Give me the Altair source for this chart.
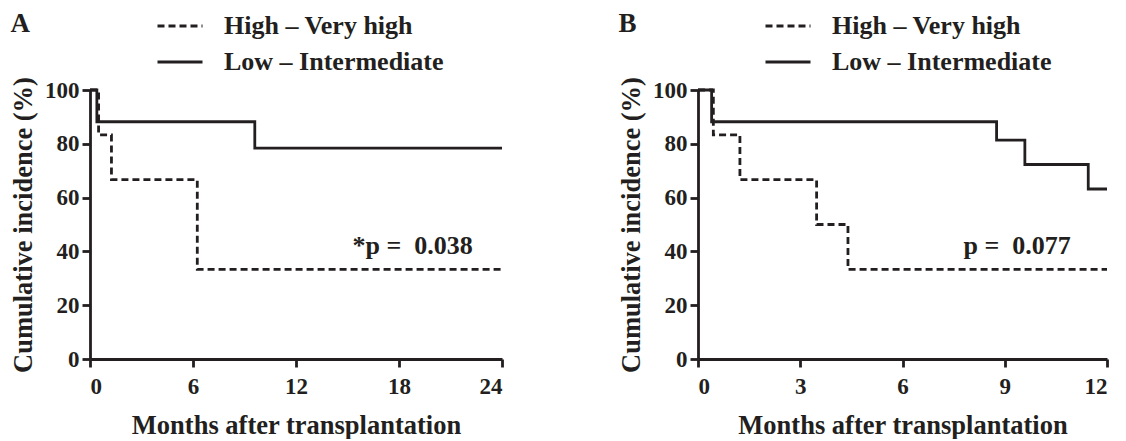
import altair as alt
import pandas as pd

groups = ["High \u2013 Very high", "Low \u2013 Intermediate"]

# Panel A (24 months)
a_high_x = [0, 0.5, 1.25, 6.25, 24]
a_high_y = [100, 83.3, 66.7, 33.3, 33.3]
a_low_x = [0, 0.4, 9.6, 24]
a_low_y = [100, 88.2, 78.4, 78.4]
a_ticks = [0, 6, 12, 18, 24]
a_p_text = ["*p =\u00a0 0.038"]
a_p_x = [22.3]
a_p_y = [42]

# Panel B (12 months)
b_high_x = [0, 0.45, 1.23, 3.48, 4.4, 12]
b_high_y = [100, 83.3, 66.7, 50, 33.3, 33.3]
b_low_x = [0, 0.4, 8.76, 9.59, 11.45, 12]
b_low_y = [100, 88.2, 81.4, 72.3, 63.2, 63.2]
b_ticks = [0, 3, 6, 9, 12]
b_p_text = ["p =\u00a0 0.077"]
b_p_x = [10.94]
b_p_y = [42]

y_ticks = [0, 20, 40, 60, 80, 100]

FONT = "Liberation Serif"
INK = "#231f20"


def panel(label, hx, hy, lx, ly, ticks, ptxt, px, py, w):
    df = pd.concat([
        pd.DataFrame({"x": hx, "y": hy, "g": groups[0]}),
        pd.DataFrame({"x": lx, "y": ly, "g": groups[1]}),
    ])
    xmax = ticks[-1]
    lines = alt.Chart(df).mark_line(interpolate="step-after", strokeWidth=2.8, color=INK).encode(
        x=alt.X("x:Q", scale=alt.Scale(domain=[0, xmax], nice=False, zero=True),
                axis=alt.Axis(values=ticks, title="Months after transplantation", format="d")),
        y=alt.Y("y:Q", scale=alt.Scale(domain=[0, 100], nice=False),
                axis=alt.Axis(values=y_ticks, title="Cumulative incidence (%)")),
        strokeDash=alt.StrokeDash(
            "g:N",
            scale=alt.Scale(domain=groups, range=[[7, 4], [1, 0]]),
            legend=alt.Legend(
                title=None, orient="none", legendX=66, legendY=-79,
                symbolType="stroke", symbolSize=2025, symbolStrokeWidth=2.8,
                symbolStrokeColor=INK, labelOffset=20, rowPadding=6, labelLimit=0,
                clipHeight=30,
                labelFont=FONT, labelFontSize=26, labelFontWeight="bold",
                labelColor=INK,
            ),
        ),
        detail="g:N",
    )
    tdf = pd.DataFrame({"t": ptxt, "x": px, "y": py})
    txt = alt.Chart(tdf).mark_text(
        align="right", baseline="middle", font=FONT, fontSize=26, fontWeight="bold", color=INK
    ).encode(x="x:Q", y="y:Q", text="t:N")
    return alt.layer(lines, txt).properties(
        width=w, height=269,
        title=alt.TitleParams(label, anchor="start", font=FONT, fontSize=27, fontWeight="bold",
                              color=INK, frame="bounds", dy=27, offset=0),
    )


pa = panel("A", a_high_x, a_high_y, a_low_x, a_low_y, a_ticks, a_p_text, a_p_x, a_p_y, 412)
pb = panel("B", b_high_x, b_high_y, b_low_x, b_low_y, b_ticks, b_p_text, b_p_x, b_p_y, 409)

chart = alt.hconcat(pa, pb, spacing=110).resolve_scale(strokeDash="independent").configure_view(
    stroke=None
).configure_axis(
    grid=False, domainColor=INK, domainWidth=2.8, tickColor=INK, tickWidth=2.8, tickSize=8,
    labelFont=FONT, labelFontSize=23, labelFontWeight="bold", labelColor=INK,
    titleFont=FONT, titleFontSize=26.5, titleFontWeight="bold", titleColor=INK,
).configure_axisX(titlePadding=14, labelPadding=8).configure_axisY(titlePadding=7, labelPadding=3).properties(
    background="white", padding={"left": 2, "top": 2, "right": 0, "bottom": 0}
)

chart.save("out.html", embed_options={"renderer": "svg", "actions": False})
